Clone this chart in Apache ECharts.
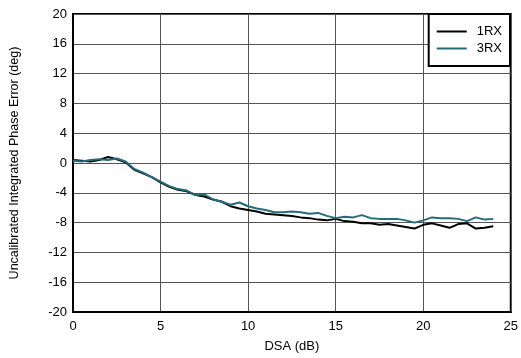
<!DOCTYPE html>
<html><head><meta charset="utf-8">
<script src="https://cdn.jsdelivr.net/npm/echarts@6/dist/echarts.min.js"></script>
<style>html,body{margin:0;padding:0;background:#fff}#c{width:521px;height:358px}</style>
</head><body><div id="c"></div>
<script>
const dsa = [0,0.5,1,1.5,2,2.5,3,3.5,4,4.5,5,5.5,6,6.5,7,7.5,8,8.5,9,9.5,10,10.5,11,11.5,12,12.5,13,13.5,14,14.5,15,15.5,16,16.5,17,17.5,18,18.5,19,19.5,20,20.5,21,21.5,22,22.5,23,23.5,24];
const rx1 = [0.4,0.3,0.2,0.4,0.8,0.5,0.1,-0.9,-1.4,-1.9,-2.6,-3.2,-3.6,-3.8,-4.3,-4.5,-4.9,-5.2,-5.8,-6.1,-6.3,-6.5,-6.8,-6.9,-7.0,-7.1,-7.3,-7.4,-7.6,-7.7,-7.5,-7.8,-7.9,-8.1,-8.1,-8.3,-8.2,-8.4,-8.6,-8.8,-8.3,-8.1,-8.4,-8.7,-8.2,-8.1,-8.8,-8.7,-8.5];
const rx3 = [0.3,0.2,0.4,0.5,0.4,0.6,0.2,-0.8,-1.3,-1.9,-2.5,-3.1,-3.5,-3.7,-4.3,-4.2,-4.9,-5.2,-5.6,-5.3,-5.8,-6.1,-6.3,-6.6,-6.6,-6.5,-6.6,-6.8,-6.7,-7.1,-7.4,-7.2,-7.3,-7.0,-7.4,-7.5,-7.5,-7.5,-7.7,-8.0,-7.7,-7.3,-7.4,-7.4,-7.5,-7.8,-7.3,-7.6,-7.5];
const seriesNames = ['1RX','3RX'];
const font = 'Liberation Sans, Arial, sans-serif';
const chart = echarts.init(document.getElementById('c'));
chart.setOption({
  animation:false,
  backgroundColor:'#fff',
  grid:{left:71,right:10,top:14,bottom:46,show:true,borderColor:'#000',borderWidth:2,backgroundColor:'transparent'},
  legend:{
    orient:'vertical',right:11,top:14,
    data:seriesNames,
    icon:'rect',
    backgroundColor:'#fff',borderColor:'#000',borderWidth:2,borderRadius:0,
    padding:[10,8,10,8],itemGap:2,itemWidth:30,itemHeight:2,
    textStyle:{fontFamily:font,fontSize:13,color:'#000',padding:[0,0,0,5],lineHeight:15}
  },
  xAxis:{
    type:'value',min:0,max:25,interval:5,
    name:'DSA (dB)',nameLocation:'middle',nameGap:28,
    nameTextStyle:{fontFamily:font,fontSize:13,color:'#000'},
    axisLine:{show:true,onZero:false,lineStyle:{color:'#000',width:2}},
    axisTick:{show:false},
    axisLabel:{fontFamily:font,fontSize:13,color:'#000',margin:8},
    splitLine:{show:true,lineStyle:{color:'#555',width:1}}
  },
  yAxis:{
    type:'value',min:-20,max:20,interval:4,
    name:'Uncalibrated Integrated Phase Error (deg)',nameLocation:'middle',nameGap:52,
    nameTextStyle:{fontFamily:font,fontSize:12.5,color:'#000'},
    axisLine:{show:true,onZero:false,lineStyle:{color:'#000',width:2}},
    axisTick:{show:false},
    axisLabel:{fontFamily:font,fontSize:13,color:'#000',margin:6},
    splitLine:{show:true,lineStyle:{color:'#555',width:1}}
  },
  series:[
    {name:seriesNames[0],type:'line',data:dsa.map((x,i)=>[x,rx1[i]]),symbol:'none',showSymbol:false,lineStyle:{color:'#000',width:2},itemStyle:{color:'#000'},z:2},
    {name:seriesNames[1],type:'line',data:dsa.map((x,i)=>[x,rx3[i]]),symbol:'none',showSymbol:false,lineStyle:{color:'#256b7a',width:2},itemStyle:{color:'#256b7a'},z:3}
  ]
});
</script></body></html>
